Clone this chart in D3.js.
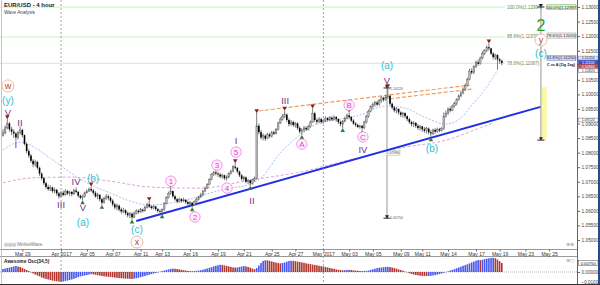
<!DOCTYPE html>
<html>
<head>
<meta charset="utf-8">
<title>EUR/USD - 4 hour</title>
<script src="https://cdn.jsdelivr.net/npm/d3@7/dist/d3.min.js"></script>
<style>
  body { margin: 0; background: #fff; }
  svg { display: block; font-family: 'Liberation Sans', Arial, sans-serif; }
</style>
</head>
<body>
<svg id="chart" width="600" height="285"></svg>
<script>
// 4 hour bars, prices in pips above 1.0000 (912 means 1.0912)
const firstOpen = 858
const closes = [
  868, 885, 900, 880, 872, 866, 852, 868, 878, 860,
  830, 805, 790, 772, 760, 768, 748, 728, 712, 695,
  682, 675, 680, 668, 672, 660, 650, 662, 655, 668,
  660, 665, 658, 670, 665, 652, 645, 650, 662, 668,
  675, 670, 662, 650, 655, 640, 628, 642, 650, 645,
  635, 622, 612, 618, 605, 598, 602, 592, 585, 590,
  578, 592, 600, 596, 604, 600, 612, 622, 615, 610,
  615, 606, 600, 598, 605, 625, 645, 660, 668, 650,
  640, 632, 640, 634, 638, 630, 624, 628, 620, 632,
  640, 648, 655, 668, 678, 690, 708, 725, 732, 728,
  725, 718, 722, 712, 716, 728, 735, 752, 748, 735,
  722, 710, 715, 700, 705, 695, 706, 712, 892, 870,
  852, 858, 848, 862, 856, 870, 865, 880, 902, 915,
  925, 930, 912, 898, 905, 895, 900, 885, 872, 878,
  885, 880, 890, 905, 935, 912, 906, 915, 905, 910,
  918, 912, 920, 914, 922, 915, 905, 898, 908, 918,
  928, 922, 910, 900, 895, 888, 892, 885, 905, 925,
  942, 958, 965, 972, 965, 978, 988, 982, 990, 995,
  968, 955, 945, 950, 938, 930, 936, 925, 915, 905,
  898, 902, 892, 885, 890, 880, 875, 882, 870, 866,
  878, 872, 880, 876, 882, 925, 935, 950, 945, 960,
  968, 982, 995, 1005, 1018, 1030, 1052, 1080, 1075, 1095,
  1110, 1105, 1125, 1140, 1150, 1162, 1158, 1140, 1128, 1135,
  1120, 1115, 1108
]
const highs = [
  880, 893, 915, 905, 888, 880, 870, 875, 890, 882,
  862, 835, 812, 795, 778, 775, 772, 752, 732, 716,
  700, 690, 688, 684, 680, 676, 665, 668, 670, 674,
  672, 670, 668, 676, 680, 668, 656, 656, 666, 674,
  680, 684, 675, 668, 662, 658, 645, 648, 658, 656,
  650, 640, 628, 625, 622, 612, 610, 606, 598, 596,
  595, 598, 606, 605, 610, 608, 618, 628, 634, 620,
  620, 618, 610, 605, 608, 630, 650, 666, 680, 670,
  655, 645, 646, 644, 645, 640, 636, 634, 630, 636,
  646, 652, 662, 672, 684, 695, 712, 730, 738, 742,
  735, 730, 728, 725, 722, 732, 742, 756, 764, 750,
  738, 726, 720, 718, 710, 708, 710, 718, 936, 900,
  878, 866, 862, 868, 868, 875, 876, 884, 906, 922,
  932, 944, 935, 918, 912, 910, 906, 904, 890, 884,
  892, 890, 896, 910, 952, 940, 918, 922, 920, 916,
  924, 922, 926, 925, 928, 926, 918, 910, 912, 924,
  934, 938, 926, 915, 905, 900, 896, 895, 910, 930,
  948, 962, 972, 978, 978, 984, 994, 992, 998, 1022,
  1000, 972, 960, 956, 952, 942, 940, 938, 928, 920,
  910, 908, 905, 898, 895, 892, 888, 888, 886, 878,
  882, 884, 886, 885, 888, 938, 945, 955, 958, 965,
  975, 986, 1000, 1012, 1024, 1038, 1058, 1088, 1090, 1100,
  1116, 1120, 1130, 1148, 1155, 1168, 1175, 1160, 1145, 1140,
  1138, 1125, 1120
]
const lows = [
  855, 862, 880, 872, 860, 850, 838, 845, 862, 852,
  825, 798, 782, 765, 750, 752, 742, 720, 705, 688,
  675, 668, 668, 662, 660, 652, 642, 648, 650, 652,
  655, 652, 650, 655, 660, 646, 640, 636, 645, 660,
  664, 665, 655, 645, 640, 632, 620, 625, 638, 636,
  628, 615, 605, 602, 598, 590, 592, 585, 578, 575,
  570, 575, 588, 590, 594, 594, 598, 608, 610, 604,
  606, 600, 594, 592, 588, 600, 622, 642, 655, 645,
  635, 626, 628, 628, 630, 624, 618, 618, 612, 618,
  628, 636, 644, 650, 664, 675, 688, 705, 720, 722,
  716, 712, 710, 706, 704, 712, 724, 732, 742, 728,
  716, 704, 702, 695, 692, 686, 690, 700, 708, 862,
  845, 842, 840, 846, 850, 852, 860, 862, 876, 898,
  910, 918, 905, 890, 892, 888, 886, 878, 865, 860,
  870, 874, 876, 886, 902, 905, 898, 902, 898, 900,
  905, 906, 908, 908, 910, 906, 898, 890, 884, 904,
  914, 915, 905, 895, 888, 884, 882, 876, 880, 900,
  920, 938, 950, 958, 960, 962, 972, 975, 978, 985,
  962, 948, 938, 935, 930, 922, 920, 918, 908, 898,
  890, 888, 885, 878, 876, 872, 868, 866, 862, 852,
  860, 865, 868, 870, 872, 878, 920, 930, 938, 942,
  955, 962, 978, 990, 1000, 1012, 1026, 1048, 1068, 1070,
  1090, 1098, 1102, 1120, 1135, 1145, 1150, 1135, 1120, 1118,
  1085, 1105, 1100
]
// Awesome Osc(34,5), in pips
const aoValues = [
  25, 29, 33, 37, 42, 46, 50, 46, 42, 33,
  25, 17, 8, -4, -12, -21, -29, -37, -46, -52,
  -58, -62, -67, -71, -75, -77, -79, -82, -79, -75,
  -71, -67, -62, -57, -50, -43, -37, -33, -29, -25,
  -21, -18, -20, -23, -27, -30, -33, -36, -38, -40,
  -42, -44, -47, -49, -51, -52, -54, -55, -56, -57,
  -58, -56, -52, -48, -43, -38, -33, -28, -23, -18,
  -13, -8, -4, 2, 7, 12, 17, 22, 26, 28,
  27, 24, 22, 18, 15, 12, 9, 7, 6, 8,
  9, 12, 15, 19, 24, 29, 35, 41, 47, 52,
  57, 60, 58, 55, 51, 47, 42, 38, 37, 38,
  42, 46, 49, 47, 42, 36, 29, 23, 33, 54,
  75, 92, 98, 97, 93, 88, 83, 78, 74, 72,
  75, 80, 86, 92, 94, 93, 90, 87, 83, 80,
  77, 72, 69, 66, 62, 59, 56, 52, 49, 46,
  42, 38, 34, 30, 26, 22, 18, 16, 14, 15,
  17, 18, 17, 14, 12, 10, 8, 7, 8, 10,
  12, 17, 22, 27, 32, 36, 38, 40, 42, 43,
  41, 37, 33, 28, 22, 17, 10, 3, -3, -10,
  -16, -21, -25, -28, -31, -32, -33, -34, -33, -32,
  -29, -26, -22, -18, -13, -7, -2, 5, 12, 18,
  25, 32, 38, 45, 52, 58, 65, 72, 80, 87,
  94, 100, 98, 102, 107, 111, 114, 117, 118, 115,
  104, 90, 75
]

const dateTickBars = [9, 27, 39, 51, 64, 74, 87, 100, 112, 125, 136, 149, 161, 172, 185, 195, 207, 220, 231, 243, 254]
const dateTickLabels = ['Mar 29', 'Apr 2017', 'Apr 05', 'Apr 07', 'Apr 11', 'Apr 13', 'Apr 16', 'Apr 19', 'Apr 21', 'Apr 25', 'Apr 27',
  'May 2017', 'May 03', 'May 05', 'May 09', 'May 11', 'May 14', 'May 17', 'May 19', 'May 23', 'May 25']
const monthBars = [27, 149]
const priceTicks = [1.05, 1.055, 1.06, 1.065, 1.07, 1.075, 1.08, 1.085, 1.09, 1.095, 1.10, 1.105, 1.11, 1.115, 1.12, 1.125, 1.13]
const hiddenTicks = [1.11]   // covered by the price tags

// moving averages (bar, pips)
const maShortBars = [0, 8, 15, 22, 31, 40, 50, 59, 68, 78, 87, 96, 106, 115, 120, 129, 138, 147, 157, 166, 178, 187, 196, 206, 213, 218, 224, 230]
const maShortVals = [809, 836, 816, 781, 733, 692, 661, 634, 620, 627, 641, 661, 678, 692, 713, 799, 860, 902, 915, 929, 960, 953, 922, 898, 919, 963, 1015, 1084]
const maLongBars = [0, 13, 31, 50, 68, 92, 115, 138, 161, 185, 208, 217, 228]
const maLongVals = [696, 713, 716, 702, 682, 678, 706, 733, 775, 816, 847, 871, 902]

// trend and channel lines (bar, pips)
const trendBars = [62, 250]
const trendVals = [565, 957]
const channelBars = [[119, 217], [180, 218]]
const channelVals = [[943, 1032], [985, 1018]]

// fibonacci levels
const fibLeftPct = ['100.0%', '88.6%', '78.6%']
const fibLeftPrice = [1.12997, 1.11970, 1.11067]
const fibRightPct = ['100.0%', '78.6%', '61.8%']
const fibRightPrice = [1.12997, 1.12020, 1.11250]
// price tags stacked on the axis
const tagPrices = [1.11250, 1.11100, 1.10960, 1.10820, 1.09120]

// swing markers and wave counts
const highMarkBars = [2, 41, 68, 78, 108, 118, 131, 144, 161, 179, 226]
const lowMarkBars = [37, 46, 60, 74, 88, 115, 139, 158, 167, 199]
const waveLabels = [
  ['w', 2.3, 1029, 'primary'], ['(y)', 2.3, 981, 'minute'], ['V', 2.3, 936, 'minor'],
  ['I', 6, 826, 'minor'], ['II', 7.9, 902, 'minor'], ['III', 27, 620, 'minor'],
  ['IV', 34, 699, 'minor'], ['V', 37.2, 613, 'minor'], ['(a)', 37.2, 562, 'minute'],
  ['(b)', 41.9, 713, 'minute'], ['(c)', 62.3, 538, 'minute'], ['x', 62.3, 493, 'primary'],
  ['1', 78.1, 702, 'sub'], ['2', 89.3, 579, 'sub'], ['3', 99.5, 757, 'sub'],
  ['4', 104.2, 678, 'sub'], ['5', 108.4, 802, 'sub'], ['I', 108.4, 843, 'minor'],
  ['II', 115.8, 637, 'minor'], ['III', 131.2, 977, 'minor'], ['A', 139, 829, 'sub'],
  ['B', 161, 963, 'sub'], ['C', 167.4, 854, 'sub'], ['IV', 167.4, 812, 'minor'],
  ['(a)', 178.6, 1101, 'minute'], ['V', 178.6, 1049, 'minor'], ['(b)', 199.5, 816, 'minute'],
  ['2', 250.2, 1238, 'intermediate'], ['y', 250.2, 1187, 'primary'], ['(c)', 250.2, 1142, 'minute']
]
// measured moves (bar, from pips, to pips)
const measureBars = [178.6, 250.2]
const measureFrom = [1022, 1300]
const measureTo = [575, 843]

const svg = d3.select('#chart')
const x = d3.scaleLinear().domain([0, 267]).range([3, 577.05])
const y = d3.scaleLinear().domain([1.05, 1.13]).range([240, 7])
const yAo = d3.scaleLinear().domain([-0.01, 0.01]).range([284, 260])
const price = v => 1 + v / 10000
const fmt = d3.format('.5f')

const bars = closes.map((c, i) => ({ i, o: i ? closes[i - 1] : firstOpen, h: highs[i], l: lows[i], c }))

svg.append('rect').attr('width', 600).attr('height', 285).attr('fill', '#fff')
svg.append('clipPath').attr('id', 'mainclip').append('rect').attr('x', 0).attr('y', 0).attr('width', 577).attr('height', 249)
const main = svg.append('g').attr('clip-path', 'url(#mainclip)')

// fib lines across the chart
main.selectAll('.fib').data(fibLeftPrice).join('line')
  .attr('x1', 0).attr('x2', 505)
  .attr('y1', d => y(d)).attr('y2', d => y(d))
  .attr('stroke', '#c9f0c4').attr('stroke-width', 1)
main.selectAll('.fibtxt').data(fibLeftPrice).join('text')
  .attr('x', 507).attr('y', d => y(d) + 1.5)
  .attr('font-size', 4.6).attr('fill', '#5f8a55')
  .text((d, i) => fibLeftPct[i] + '(' + fmt(d) + ')')

// month separators
svg.selectAll('.month').data(monthBars).join('line')
  .attr('x1', d => x(d)).attr('x2', d => x(d))
  .attr('y1', 0).attr('y2', 285)
  .attr('stroke', '#8a8a8a').attr('stroke-dasharray', '2,2').attr('stroke-width', 0.8)

// moving averages
const maLine = d3.line().curve(d3.curveMonotoneX)
main.append('path')
  .attr('d', maLine(maLongBars.map((b, i) => [x(b), y(price(maLongVals[i]))])))
  .attr('fill', 'none').attr('stroke', '#dfa3dc').attr('stroke-width', 1).attr('stroke-dasharray', '3,2')
main.append('path')
  .attr('d', maLine(maShortBars.map((b, i) => [x(b), y(price(maShortVals[i]))])))
  .attr('fill', 'none').attr('stroke', '#a9c0f2').attr('stroke-width', 1).attr('stroke-dasharray', '2,1.5')

// yellow target zone and measured move lines
main.append('rect')
  .attr('x', x(measureBars[1]) + 0.8).attr('width', 5)
  .attr('y', y(price(1025))).attr('height', y(price(843)) - y(price(1025)))
  .attr('fill', '#fdf8a6')
measureBars.forEach((b, i) => {
  main.append('line')
    .attr('x1', x(b)).attr('x2', x(b))
    .attr('y1', y(price(measureFrom[i]))).attr('y2', y(price(measureTo[i])))
    .attr('stroke', '#a8a8a8').attr('stroke-width', 1.2)
  ;[measureFrom[i], measureTo[i]].forEach(p => {
    main.append('line').attr('x1', x(b) - 3.5).attr('x2', x(b) + 3.5)
      .attr('y1', y(price(p))).attr('y2', y(price(p)))
      .attr('stroke', '#222').attr('stroke-width', 1)
    main.append('path').attr('d', d3.symbol().type(d3.symbolTriangle).size(7)())
      .attr('transform', `translate(${x(b)},${y(price(p)) - 1.8}) rotate(180)`).attr('fill', '#222')
  })
})
main.append('text').attr('x', x(measureBars[0]) + 3).attr('y', y(price(measureFrom[0])) + 2)
  .attr('font-size', 3.6).attr('fill', '#555').text(fmt(price(measureFrom[0])))
main.append('text').attr('x', x(measureBars[0]) + 3).attr('y', y(price(measureTo[0])) + 1.2)
  .attr('font-size', 3.6).attr('fill', '#555').text(fmt(price(measureTo[0])))
main.append('rect').attr('x', x(measureBars[0]) - 1).attr('y', y(price(799)) - 2.5).attr('width', 14).attr('height', 5)
  .attr('fill', '#f4f4f4').attr('stroke', '#aaa').attr('stroke-width', 0.4)
main.append('text').attr('x', x(measureBars[0]) + 6).attr('y', y(price(799)) + 1.3).attr('text-anchor', 'middle')
  .attr('font-size', 3.6).attr('fill', '#555').text(fmt(price(799)))

// trend line and channel lines
main.append('line')
  .attr('x1', x(trendBars[0])).attr('y1', y(price(trendVals[0])))
  .attr('x2', x(trendBars[1])).attr('y2', y(price(trendVals[1])))
  .attr('stroke', '#1f2fe6').attr('stroke-width', 2)
channelBars.forEach((b, i) => {
  main.append('line')
    .attr('x1', x(b[0])).attr('y1', y(price(channelVals[i][0])))
    .attr('x2', x(b[1])).attr('y2', y(price(channelVals[i][1])))
    .attr('stroke', '#f29a5c').attr('stroke-width', 1.2).attr('stroke-dasharray', '4,2')
})

// candles
const candle = main.append('g').selectAll('g').data(bars).join('g')
candle.append('line')
  .attr('x1', d => x(d.i)).attr('x2', d => x(d.i))
  .attr('y1', d => y(price(Math.max(d.h, d.o, d.c)))).attr('y2', d => y(price(Math.min(d.l, d.o, d.c))))
  .attr('stroke', '#5a5a5a').attr('stroke-width', 0.8)
candle.append('rect')
  .attr('x', d => x(d.i) - 0.8).attr('width', 1.6)
  .attr('y', d => y(price(Math.max(d.o, d.c))))
  .attr('height', d => Math.max(0.8, Math.abs(y(price(d.o)) - y(price(d.c)))))
  .attr('fill', d => d.c >= d.o ? '#b8b8b8' : '#000')
  .attr('stroke', d => d.c >= d.o ? '#555' : 'none').attr('stroke-width', 0.4)

// swing markers
const tri = d3.symbol().type(d3.symbolTriangle).size(9)
main.selectAll('.hm').data(highMarkBars).join('path')
  .attr('d', tri)
  .attr('transform', i => `translate(${x(i)},${y(price(highs[i])) - 2.5}) rotate(180)`)
  .attr('fill', '#8e1f1f')
main.selectAll('.lm').data(lowMarkBars).join('path')
  .attr('d', tri)
  .attr('transform', i => `translate(${x(i)},${y(price(lows[i])) + 2.5})`)
  .attr('fill', '#2f7d3a')

// wave labels
const waves = main.append('g').selectAll('g').data(waveLabels).join('g')
  .attr('transform', d => `translate(${x(d[1])},${y(price(d[2]))})`)
waves.filter(d => d[3] === 'sub').append('circle')
  .attr('r', 5.2).attr('fill', '#fff0fc').attr('stroke', '#f27ce9').attr('stroke-width', 0.8)
waves.filter(d => d[3] === 'primary').append('circle')
  .attr('r', 6).attr('fill', '#fff').attr('stroke', '#e9a98c').attr('stroke-width', 0.8)
waves.append('text')
  .attr('text-anchor', 'middle').attr('dy', '0.36em')
  .attr('font-size', d => ({ sub: 8, primary: 9, minor: 9.5, minute: 10, intermediate: 16 })[d[3]])
  .attr('fill', d => ({ sub: '#e13ad9', primary: '#b4472b', minor: '#7a2c8c', minute: '#2fc1cf', intermediate: '#2a9a2f' })[d[3]])
  .text(d => d[0])

// fib boxes on the right
const boxFill = ['#d9f0cc', '#eaeaea', '#ccd3f3']
const boxStroke = ['#7fb86d', '#a0a0a0', '#7c86d6']
fibRightPrice.forEach((p, i) => {
  svg.append('rect').attr('x', 547).attr('y', y(p) - 2.6).attr('width', 29).attr('height', 5.2)
    .attr('fill', boxFill[i]).attr('stroke', boxStroke[i]).attr('stroke-width', 0.5)
  svg.append('text').attr('x', 561.5).attr('y', y(p) + 1.5).attr('text-anchor', 'middle')
    .attr('font-size', 4.2).attr('fill', '#333').text(fibRightPct[i] + '(' + fmt(p) + ')')
})
svg.append('text').attr('x', 547).attr('y', y(fibRightPrice[2]) + 8.5)
  .attr('font-size', 4).attr('font-weight', 'bold').attr('fill', '#111')
  .attr('textLength', 28).attr('lengthAdjust', 'spacingAndGlyphs').text('C vs A (Zig Zag)')

// frames
svg.append('line').attr('x1', 0).attr('x2', 577).attr('y1', 249.5).attr('y2', 249.5).attr('stroke', '#9a9a9a')
svg.append('line').attr('x1', 0).attr('x2', 577).attr('y1', 256.5).attr('y2', 256.5).attr('stroke', '#9a9a9a')
svg.append('line').attr('x1', 1.5).attr('x2', 1.5).attr('y1', 0).attr('y2', 285).attr('stroke', '#b8b8b8').attr('stroke-width', 0.8)
svg.append('line').attr('x1', 577.5).attr('x2', 577.5).attr('y1', 0).attr('y2', 285).attr('stroke', '#666')

// price axis
const yAxis = svg.append('g').attr('transform', 'translate(577.5,0)')
  .call(d3.axisRight(y).tickValues(priceTicks)
    .tickFormat(d => hiddenTicks.includes(d) ? '' : fmt(d)).tickSize(2.5).tickPadding(1.5))
yAxis.select('.domain').remove()
yAxis.selectAll('line').attr('stroke', '#666')
yAxis.selectAll('text').attr('font-size', 4.8).attr('fill', '#444').attr('font-family', 'Liberation Sans, Arial, sans-serif')

// price tags on the axis
const tagFill = ['#dcdcf6', '#3d4fd8', '#c8545a', '#fff', '#fff']
const tagStroke = ['#8a8ad0', '#2a36a0', '#9a2d33', '#777', '#777']
const tagText = ['#333', '#fff', '#fff', '#333', '#333']
tagPrices.forEach((p, i) => {
  svg.append('rect').attr('x', 578.5).attr('y', y(p) - 1.9).attr('width', 19.5).attr('height', 3.8)
    .attr('fill', tagFill[i]).attr('stroke', tagStroke[i]).attr('stroke-width', 0.5)
  svg.append('text').attr('x', 588.2).attr('y', y(p) + 1.3).attr('text-anchor', 'middle')
    .attr('font-size', 3.6).attr('fill', tagText[i]).text(fmt(p))
})

// date axis
const xAxis = svg.append('g').attr('transform', 'translate(0,249.5)')
  .call(d3.axisBottom(x).tickValues(dateTickBars).tickFormat((d, i) => dateTickLabels[i]).tickSize(2).tickPadding(1))
xAxis.select('.domain').remove()
xAxis.selectAll('line').attr('stroke', '#666')
xAxis.selectAll('text').attr('font-size', 5).attr('fill', '#333').attr('font-family', 'Liberation Sans, Arial, sans-serif')

// titles
svg.append('text').attr('x', 4).attr('y', 7).attr('font-size', 6).attr('font-weight', 'bold').attr('fill', '#222').text('EUR/USD - 4 hour')
svg.append('text').attr('x', 4).attr('y', 14).attr('font-size', 4.8).attr('fill', '#444').text('Wave Analysis')
svg.append('text').attr('x', 4).attr('y', 245.5).attr('font-size', 4.6).attr('fill', '#777').text('◎◎◎ MotiveWave')
svg.append('text').attr('x', 566).attr('y', 246).attr('font-size', 5).attr('fill', '#999').text('⊕⊕')
svg.append('text').attr('x', 566).attr('y', 262).attr('font-size', 5).attr('fill', '#999').text('⊕◻')

// awesome oscillator panel
svg.append('text').attr('x', 4).attr('y', 263).attr('font-size', 4.8).attr('font-weight', 'bold').attr('fill', '#222').text('Awesome Osc(34,5)')
svg.append('line').attr('x1', 0).attr('x2', 577).attr('y1', yAo(0)).attr('y2', yAo(0))
  .attr('stroke', '#999').attr('stroke-dasharray', '1,1').attr('stroke-width', 0.8)
svg.append('g').selectAll('rect').data(aoValues).join('rect')
  .attr('x', (d, i) => x(i) - 0.8).attr('width', 1.6)
  .attr('y', d => yAo(Math.max(0, d / 10000)))
  .attr('height', d => Math.abs(yAo(d / 10000) - yAo(0)))
  .attr('fill', (d, i) => i > 0 && d < aoValues[i - 1] ? '#b1362f' : '#4757f2')
const aoAxis = svg.append('g').attr('transform', 'translate(577.5,0)')
  .call(d3.axisRight(yAo).tickValues([0, -0.01]).tickFormat(fmt).tickSize(2.5).tickPadding(1.5))
aoAxis.select('.domain').remove()
aoAxis.selectAll('line').attr('stroke', '#666')
aoAxis.selectAll('text').attr('font-size', 4.6).attr('fill', '#444').attr('font-family', 'Liberation Sans, Arial, sans-serif')
  .attr('dy', d => d < 0 ? '-0.2em' : '0.32em')
const lastAo = aoValues[aoValues.length - 1] / 10000
svg.append('rect').attr('x', 578.5).attr('y', yAo(lastAo) - 2.4).attr('width', 19.5).attr('height', 4.8)
  .attr('fill', '#fff').attr('stroke', '#555').attr('stroke-width', 0.5)
svg.append('text').attr('x', 588.2).attr('y', yAo(lastAo) + 1.5).attr('text-anchor', 'middle')
  .attr('font-size', 4.2).attr('fill', '#222').text(fmt(lastAo))

// outer border
svg.append('line').attr('x1', 599).attr('x2', 599).attr('y1', 0).attr('y2', 285).attr('stroke', '#2a4a8c').attr('stroke-width', 2)
svg.append('line').attr('x1', 0).attr('x2', 600).attr('y1', 284.5).attr('y2', 284.5).attr('stroke', '#333').attr('stroke-width', 1)
</script>
</body>
</html>
